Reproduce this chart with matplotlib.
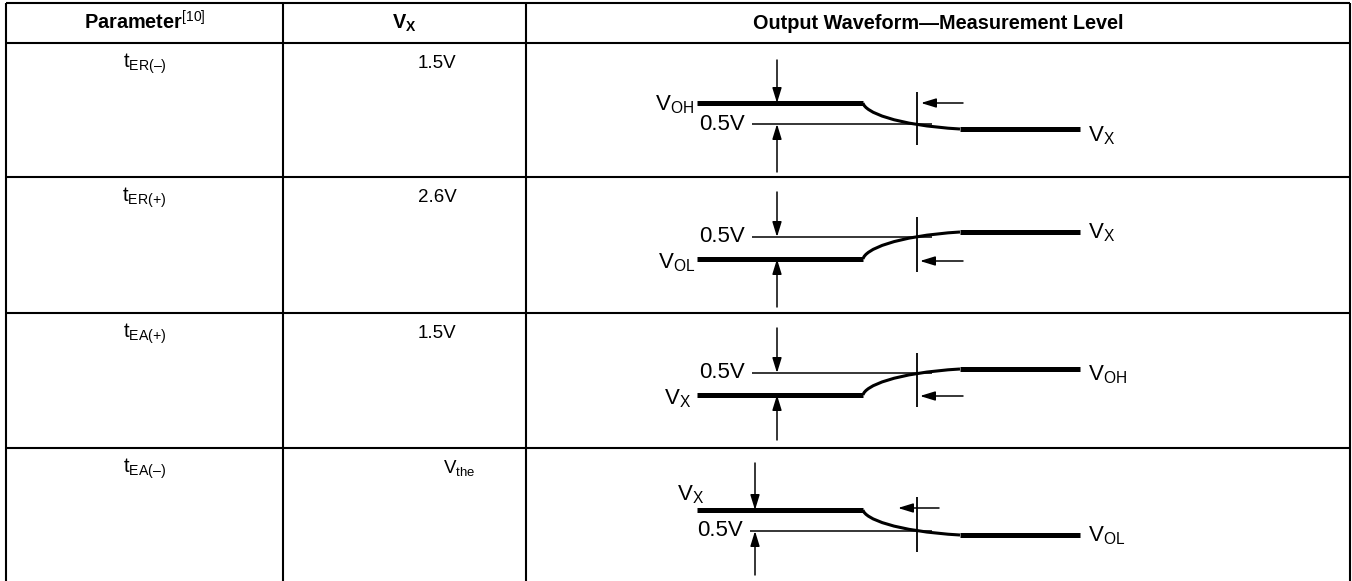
import matplotlib
matplotlib.use('Agg')
import matplotlib.pyplot as plt
from matplotlib.path import Path
from matplotlib.patches import PathPatch

plt.rcParams['font.family'] = ['Liberation Sans', 'DejaVu Sans']
plt.rcParams['mathtext.fontset'] = 'custom'
plt.rcParams['mathtext.rm'] = 'Liberation Sans'
plt.rcParams['mathtext.bf'] = 'Liberation Sans:bold'
plt.rcParams['mathtext.it'] = 'Liberation Sans:italic'

# Datos de la tabla
encabezados = [r'$\mathbf{Parameter}^{\mathrm{[10]}}$', r'$\mathbf{V_X}$',
               'Output Waveform\u2014Measurement Level']
parametros = ['ER(\u2013)', 'ER(+)', 'EA(+)', 'EA(\u2013)']
valores_vx = ['1.5V', '2.6V', '1.5V', r'$\mathrm{V_{the}}$']
etiqueta_izq = ['OH', 'OL', 'X', 'X']
etiqueta_der = ['X', 'X', 'OH', 'OL']
flanco = ['baja', 'sube', 'sube', 'baja']
nivel_medida = ['0.5V', '0.5V', '0.5V', '0.5V']

# Geometria (pixeles)
W, H = 1352, 581
col_x = [6, 283, 526, 1350]
fila_y = [3, 43, 177, 313, 448]

# por fila: alto, bajo, linea fina, x flechas, inicio flecha abajo, inicio flecha arriba,
# marca (arriba, abajo), y flecha izq, x flecha izq, base etiqueta izq, x etiqueta izq, base etiqueta der
geo = [
    dict(alto=103, bajo=129, fina=124, fx=777, fa=60, fb=172, m=(92, 145), ly=103, lx=(963, 921),
         bi=110, xi=694, bd=141, vx=437),
    dict(alto=232, bajo=259, fina=237, fx=777, fa=192, fb=307, m=(217, 272), ly=261, lx=(963, 920),
         bi=268, xi=695, bd=238, vx=437),
    dict(alto=369, bajo=395, fina=373, fx=777, fa=328, fb=440, m=(353, 407), ly=396, lx=(963, 920),
         bi=404, xi=691, bd=380, vx=437),
    dict(alto=510, bajo=535, fina=531, fx=755, fa=463, fb=575, m=(497, 552), ly=508, lx=(939, 898),
         bi=500, xi=704, bd=541, vx=459),
]

fig = plt.figure(figsize=(W / 100, H / 100), dpi=100)
ax = fig.add_axes([0, 0, 1, 1])
ax.set_xlim(0, W)
ax.set_ylim(H, 0)
ax.axis('off')

lw_tabla = 1.5
# Bordes de la tabla
for x in col_x:
    ax.plot([x, x], [fila_y[0], H], color='black', lw=lw_tabla, solid_capstyle='butt')
for y in fila_y:
    ax.plot([col_x[0], col_x[-1]], [y, y], color='black', lw=lw_tabla, solid_capstyle='butt')

# Encabezados
centros = [(col_x[i] + col_x[i + 1]) / 2 for i in range(3)]
for c, txt in zip(centros, encabezados):
    ax.text(c, 29, txt, ha='center', va='baseline', fontsize=14.3, fontweight='bold')


def flecha(x0, y0, x1, y1):
    ax.annotate('', xy=(x1, y1), xytext=(x0, y0),
                arrowprops=dict(arrowstyle='-|>,head_length=0.65,head_width=0.2', lw=1.1,
                                color='black', mutation_scale=14, shrinkA=0, shrinkB=0))


for i in range(4):
    r = fila_y[i + 1]
    g = geo[i]
    ax.text(centros[0], r + 25, r'$\mathrm{t_{' + parametros[i] + '}}$', ha='center',
            va='baseline', fontsize=14.5)
    ax.text(g['vx'], r + 25, valores_vx[i], ha='center', va='baseline', fontsize=13.5)

    if flanco[i] == 'baja':
        y_ini, y_fin = g['alto'], g['bajo']
    else:
        y_ini, y_fin = g['bajo'], g['alto']

    # forma de onda
    ax.plot([697, 863], [y_ini, y_ini], color='black', lw=3.6, solid_capstyle='butt')
    d = y_fin - y_ini
    curva = Path([(863, y_ini), (865, y_ini + 0.35 * d), (895, y_ini + 0.85 * d), (960, y_fin)],
                 [Path.MOVETO, Path.CURVE4, Path.CURVE4, Path.CURVE4])
    ax.add_patch(PathPatch(curva, fill=False, lw=2.2, edgecolor='black'))
    ax.plot([960, 1080], [y_fin, y_fin], color='black', lw=3.6, solid_capstyle='butt')

    # nivel de medida
    x_fina = 752 if i < 3 else 750
    ax.plot([x_fina, 932], [g['fina'], g['fina']], color='black', lw=1.1, solid_capstyle='butt')
    ax.text(x_fina - 7, g['fina'], nivel_medida[i], ha='right', va='center', fontsize=16)

    # flechas verticales
    if i in (0, 3):
        flecha(g['fx'], g['fa'], g['fx'], g['alto'])
        flecha(g['fx'], g['fb'], g['fx'], g['fina'])
    else:
        flecha(g['fx'], g['fa'], g['fx'], g['fina'])
        flecha(g['fx'], g['fb'], g['fx'], g['bajo'])

    # marca y flecha horizontal
    ax.plot([917, 917], list(g['m']), color='black', lw=1.3, solid_capstyle='butt')
    flecha(g['lx'][0], g['ly'], g['lx'][1], g['ly'])

    # etiquetas
    ax.text(g['xi'], g['bi'], r'$\mathrm{V_{' + etiqueta_izq[i] + '}}$', ha='right',
            va='baseline', fontsize=16)
    ax.text(1088, g['bd'], r'$\mathrm{V_{' + etiqueta_der[i] + '}}$', ha='left',
            va='baseline', fontsize=16)

plt.savefig('out.png', dpi=100)
